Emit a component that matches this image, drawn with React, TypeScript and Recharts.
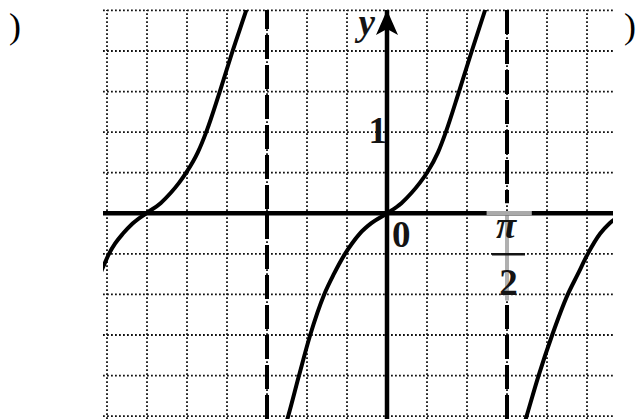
import React from "react";
import {
  ComposedChart,
  Line,
  XAxis,
  YAxis,
  ReferenceLine,
  ReferenceDot,
} from "recharts";

// units: one grid cell; x: 3 cells = pi/2, y: 2 cells = 1
const xGrid = [-7, -6, -5, -4, -3, -2, -1, 1, 2, 3, 4, 5];
const yGrid = [-5, -4, -3, -2, -1, 1, 2, 3, 4, 5];
const asymptotes = [-3, 3];

const leftBranch = [
  { x: -7.22, y: -1.6 },
  { x: -7.1, y: -1.33 },
  { x: -6.95, y: -1.0 },
  { x: -6.8, y: -0.75 },
  { x: -6.6, y: -0.5 },
  { x: -6.36, y: -0.25 },
  { x: -6.02, y: 0 },
  { x: -5.66, y: 0.25 },
  { x: -5.41, y: 0.5 },
  { x: -5.2, y: 0.75 },
  { x: -5.02, y: 1.0 },
  { x: -4.73, y: 1.5 },
  { x: -4.52, y: 2.0 },
  { x: -4.18, y: 3.0 },
  { x: -3.86, y: 4.0 },
  { x: -3.52, y: 5.0 },
  { x: -3.42, y: 5.3 },
];

const middleBranch = [
  { x: -2.56, y: -5.3 },
  { x: -2.47, y: -5.0 },
  { x: -2.2, y: -4.0 },
  { x: -1.92, y: -3.0 },
  { x: -1.57, y: -2.0 },
  { x: -1.33, y: -1.5 },
  { x: -1.05, y: -1.0 },
  { x: -0.88, y: -0.75 },
  { x: -0.68, y: -0.5 },
  { x: -0.4, y: -0.25 },
  { x: 0, y: 0 },
  { x: 0.36, y: 0.25 },
  { x: 0.61, y: 0.5 },
  { x: 0.82, y: 0.75 },
  { x: 1.0, y: 1.0 },
  { x: 1.275, y: 1.5 },
  { x: 1.47, y: 2.0 },
  { x: 1.8, y: 3.0 },
  { x: 2.12, y: 4.0 },
  { x: 2.45, y: 5.0 },
  { x: 2.55, y: 5.3 },
];

const rightBranch = [
  { x: 3.4, y: -5.3 },
  { x: 3.49, y: -5.0 },
  { x: 3.79, y: -4.0 },
  { x: 4.13, y: -3.0 },
  { x: 4.52, y: -2.0 },
  { x: 4.77, y: -1.5 },
  { x: 5.02, y: -1.0 },
  { x: 5.33, y: -0.5 },
  { x: 5.56, y: -0.25 },
  { x: 5.95, y: 0 },
];

const serif = '"Liberation Serif", serif';
const ink = "#141414";

const textAt = (
  txt: string,
  dx: number,
  dy: number,
  opts: { anchor?: string; italic?: boolean; size?: number } = {}
) => (props: any) => (
  <text
    x={props.cx + dx}
    y={props.cy + dy}
    textAnchor={opts.anchor || "start"}
    fill={ink}
    style={{
      fontFamily: serif,
      fontWeight: "bold",
      fontStyle: opts.italic ? "italic" : "normal",
      fontSize: opts.size || 37,
    }}
  >
    {txt}
  </text>
);

const Arrow = (props: any) => {
  const { cx, cy } = props;
  return (
    <polygon
      points={`${cx},${cy} ${cx - 11},${cy + 25} ${cx},${cy + 19} ${cx + 11},${cy + 25}`}
      fill="#000"
    />
  );
};

const FracBar = (props: any) => (
  <line
    x1={props.cx - 15}
    x2={props.cx + 18}
    y1={props.cy + 41}
    y2={props.cy + 41}
    stroke={ink}
    strokeWidth={2.5}
  />
);

const gridStyle = { stroke: "#111", strokeWidth: 1.8, strokeDasharray: "1.8 2.2" };
const dashStyle = { stroke: "#000", strokeWidth: 4, strokeDasharray: "24 6" };

export default function App() {
  return (
    <div style={{ position: "absolute", left: 0, top: 0, width: 639, height: 419, background: "#fff" }}>
      <svg
        width={639}
        height={419}
        style={{ position: "absolute", left: 0, top: 0, fontFamily: serif }}
      >
        <text x={9} y={38} fontSize={36} fill="#000">)</text>
        <text x={624} y={38} fontSize={36} fill="#000">)</text>
      </svg>
      <div style={{ position: "absolute", left: 0, top: 0 }}>
        <ComposedChart
          width={639}
          height={419}
          margin={{ top: 10, right: 26, bottom: 0, left: 103 }}
        >
          <XAxis
            type="number"
            dataKey="x"
            domain={[-7.1, 5.65]}
            allowDataOverflow
            hide
          />
          <YAxis
            type="number"
            dataKey="y"
            domain={[-5.07, 5.01]}
            allowDataOverflow
            hide
          />
          {xGrid.map((v) => (
            <ReferenceLine key={"gx" + v} x={v} {...gridStyle} />
          ))}
          {yGrid.map((v) => (
            <ReferenceLine key={"gy" + v} y={v} {...gridStyle} />
          ))}
          <ReferenceLine x={asymptotes[0]} {...dashStyle} />
          <ReferenceLine
            segment={[
              { x: asymptotes[1], y: 5.01 },
              { x: asymptotes[1], y: 0.25 },
            ]}
            {...dashStyle}
          />
          <ReferenceLine
            segment={[
              { x: asymptotes[1], y: -2.26 },
              { x: asymptotes[1], y: -5.07 },
            ]}
            {...dashStyle}
          />
          <ReferenceLine
            segment={[
              { x: asymptotes[1], y: 0 },
              { x: asymptotes[1], y: -2.15 },
            ]}
            stroke="#b0b0b0"
            strokeWidth={4}
          />
          <ReferenceLine y={0} stroke="#000" strokeWidth={4.5} />
          <ReferenceLine
            segment={[
              { x: 2.49, y: 0 },
              { x: 3.62, y: 0 },
            ]}
            stroke="#aaa"
            strokeWidth={4.5}
          />
          <ReferenceLine x={0} stroke="#000" strokeWidth={4.5} />
          {[leftBranch, middleBranch, rightBranch].map((branch, i) => (
            <Line
              key={"b" + i}
              data={branch}
              dataKey="y"
              type="monotone"
              stroke="#000"
              strokeWidth={4}
              dot={false}
              isAnimationActive={false}
            />
          ))}
          <ReferenceDot x={0} y={5.01} shape={Arrow} />
          <ReferenceDot x={0} y={5.01} shape={textAt("y", -12, 25, { anchor: "end", italic: true })} />
          <ReferenceDot x={0} y={2} shape={textAt("1", 0, 11, { anchor: "end" })} />
          <ReferenceDot x={0} y={0} shape={textAt("0", 5, 34)} />
          <ReferenceDot x={3} y={0} shape={textAt("π", -1, 25, { anchor: "middle", italic: true })} />
          <ReferenceDot x={3} y={0} shape={FracBar} />
          <ReferenceDot x={3} y={0} shape={textAt("2", 1.5, 82, { anchor: "middle" })} />
        </ComposedChart>
      </div>
    </div>
  );
}
